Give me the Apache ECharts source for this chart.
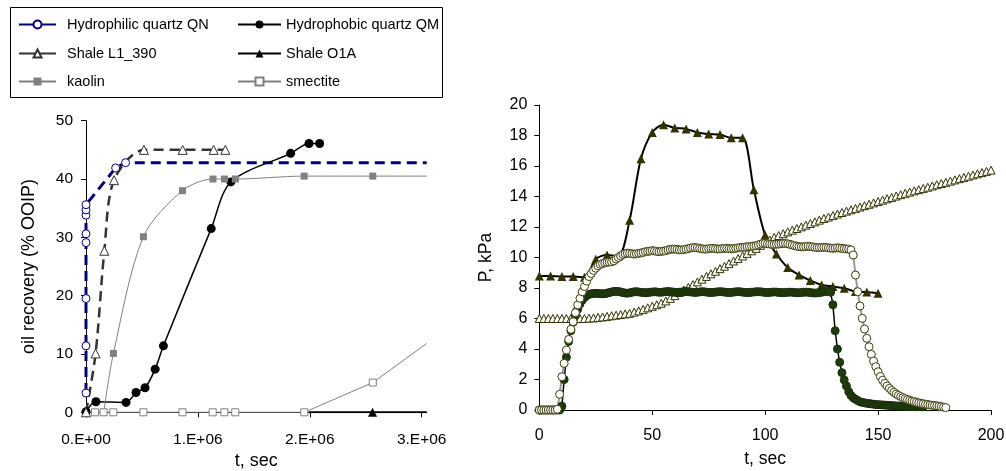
<!DOCTYPE html>
<html><head><meta charset="utf-8">
<script src="https://cdn.jsdelivr.net/npm/echarts@6/dist/echarts.min.js"></script>
<style>html,body{margin:0;padding:0;background:#fff}#c{width:1006px;height:471px}</style>
</head><body><div id="c"></div>
<script>
// ---------------- LEFT CHART DATA (t in sec, recovery % OOIP) ----------------
const qnT  = [0, 0, 0, 0, 0, 0, 0, 0, 0.265e6, 0.354e6, 3.045e6];
const qnY  = [3.3, 11.4, 19.5, 29.1, 30.6, 33.8, 34.7, 35.6, 41.9, 42.8, 42.8];
const qmT  = [0, 0.089e6, 0.358e6, 0.447e6, 0.528e6, 0.618e6, 0.692e6, 1.119e6, 1.295e6, 1.829e6, 1.993e6, 2.088e6];
const qmY  = [0.1, 1.8, 1.7, 3.4, 4.2, 7.4, 11.4, 31.5, 39.5, 44.4, 46.1, 46.1];
const l1T  = [0, 0.086e6, 0.164e6, 0.25e6, 0.518e6, 0.864e6, 1.141e6, 1.245e6];
const l1Y  = [0, 10.1, 27.7, 39.8, 45.0, 45.0, 45.0, 45.0];
const o1aT = [1.99e6, 2.561e6, 3.045e6];
const o1aY = [0, 0, 0];
const kaoT = [0.158e6, 0.245e6, 0.513e6, 0.862e6, 1.135e6, 1.238e6, 1.335e6, 1.95e6, 2.563e6, 3.045e6];
const kaoY = [0, 10.1, 30.1, 38.0, 40.0, 40.0, 40.0, 40.5, 40.5, 40.5];
const smeT = [0.08e6, 0.157e6, 0.244e6, 0.513e6, 0.862e6, 1.132e6, 1.237e6, 1.334e6, 1.951e6, 2.563e6, 3.045e6];
const smeY = [0, 0, 0, 0, 0, 0, 0, 0, 0, 5.1, 11.8];
const leftXTicks  = [0, 1e6, 2e6, 3e6];
const leftXLabels = ['0.E+00', '1.E+06', '2.E+06', '3.E+06'];
const seriesNames = ['Hydrophilic quartz QN', 'Hydrophobic quartz QM', 'Shale L1_390', 'Shale O1A', 'kaolin', 'smectite'];

// ---------------- RIGHT CHART DATA (t in sec, P in kPa) ----------------
const triFilledT = [0,5,10,15,20,25,30,35,40,45,50,55,60,65,70,75,80,85,90,95,100,105,110,115,120,125,130,135,140,145,150];
const triFilledP = [8.79,8.79,8.75,8.75,8.7,9.88,10.16,10.1,12.45,16.47,18.2,18.7,18.5,18.43,18.2,18.1,18.06,17.85,17.85,14.45,11.47,10.23,9.34,8.86,8.49,8.2,8.1,7.99,7.77,7.73,7.66];

const triOpenT0 = 0, triOpenStep = 2;   // sample every 2 s from t = 0
const triOpenP = [
  6.0,6.0,6.0,6.0,6.0,6.0,6.0,6.0,6.0,6.0,6.0,
  6.02,6.04,6.07,6.1,6.14,6.18,6.22,6.26,6.3,6.34,
  6.42,6.5,6.6,6.7,6.8,6.9,7.0,7.15,7.32,7.5,
  7.7,7.87,8.04,8.22,8.4,8.58,8.76,8.93,9.1,9.27,
  9.43,9.6,9.77,9.93,10.1,10.27,10.44,10.6,10.8,10.98,
  11.15,11.32,11.44,11.56,11.68,11.79,11.9,12.01,12.12,12.23,
  12.34,12.45,12.56,12.65,12.75,12.85,12.95,13.04,13.13,13.22,
  13.31,13.4,13.49,13.58,13.67,13.76,13.85,13.94,14.03,14.12,
  14.21,14.29,14.37,14.45,14.53,14.61,14.69,14.77,14.85,14.93,
  15.01,15.09,15.17,15.25,15.33,15.41,15.49,15.57,15.65,15.73
];
const triOpenTailT = 202, triOpenTailP = 15.9;

const circFilledT0 = 0, circFilledStep = 1;
const circFilledP = [
  0,0,0,0,0,0,0,0,0,0,
  0.25,2.0,3.46,4.5,5.2,5.75,6.2,6.6,6.95,7.2,7.38,7.5,7.58,
  7.62,7.64,7.65,7.64,7.63,7.62,7.63,
  7.66,7.7,7.74,7.77,7.78,7.77,7.74,7.7,7.67,7.66,
  7.68,7.72,7.75,7.76,7.74,7.72,7.7,7.69,7.7,7.72,
  7.74,7.75,7.74,7.72,7.72,7.74,7.76,7.77,7.76,7.74,
  7.72,7.71,7.72,7.74,7.76,7.77,7.76,7.74,7.72,7.71,
  7.72,7.74,7.76,7.75,7.73,7.71,7.7,7.71,7.73,7.75,
  7.76,7.75,7.73,7.71,7.7,7.71,7.73,7.75,7.76,7.75,
  7.73,7.71,7.7,7.7,7.72,7.74,7.75,7.76,7.75,7.73,
  7.71,7.7,7.71,7.73,7.74,7.73,7.71,7.7,7.69,7.7,
  7.72,7.73,7.72,7.7,7.69,7.69,7.7,7.72,7.73,7.72,
  7.7,7.68,7.67,7.68,7.7,7.72,7.75,7.78,7.8,7.72,
  6.9,5.2,4.0,3.13,2.45,1.97,1.57,1.2,0.95,0.8,0.7,
  0.62,0.54,0.5,0.47,0.44,0.42,0.4,0.38,0.36,0.35,
  0.34,0.33,0.32,0.31,0.3,0.29,0.28,0.27,0.26,0.26,
  0.25,0.25,0.24,0.24,0.23,0.23,0.22,0.22,0.21,0.21
];

const circOpenT0 = 0, circOpenStep = 1;
const circOpenP = [
  0,0,0,0,0,0,0,0,0.05,
  1.03,2.18,3.06,3.93,4.63,5.29,5.79,6.38,6.89,7.32,7.75,8.1,8.45,8.75,
  8.95,9.15,9.3,9.45,9.55,9.6,9.65,9.68,9.7,9.72,9.78,9.9,10.0,10.1,10.2,10.25,10.28,
  10.27,10.25,10.22,10.24,10.27,10.3,10.33,10.38,10.4,10.42,
  10.45,10.43,10.4,10.38,10.4,10.42,10.45,10.5,10.53,10.55,
  10.55,10.53,10.5,10.5,10.52,10.55,10.58,10.62,10.65,10.65,
  10.63,10.6,10.57,10.55,10.55,10.58,10.6,10.6,10.58,10.56,
  10.56,10.58,10.6,10.6,10.58,10.57,10.58,10.6,10.63,10.66,
  10.66,10.68,10.7,10.72,10.73,10.75,10.78,10.82,10.88,10.92,
  10.93,10.9,10.88,10.86,10.86,10.87,10.88,10.9,10.92,10.92,
  10.9,10.86,10.82,10.78,10.74,10.71,10.7,10.7,10.72,10.74,
  10.72,10.7,10.67,10.65,10.65,10.66,10.67,10.66,10.64,10.62,
  10.6,10.62,10.64,10.62,10.6,10.58,10.56,10.55,10.5,
  10.16,8.85,7.76,6.82,6.01,5.31,4.7,4.15,3.65,3.21,2.84,
  2.51,2.2,1.95,1.75,1.57,1.42,1.28,1.16,1.05,0.96,
  0.88,0.81,0.75,0.69,0.64,0.59,0.55,0.51,0.47,0.44,
  0.41,0.38,0.36,0.33,0.31,0.29,0.27,0.25,0.22,0.19,0.16
];

// ---------------- BUILD ----------------
const LEFT_X_MAX = 3.045e6;
const FONT = '"Liberation Sans", Arial, sans-serif';
function pairs(ts, ys) { return ts.map((t, i) => [t, ys[i]]); }
function stepPairs(t0, step, ys) { return ys.map((y, i) => [t0 + i * step, y]); }
function edgeless(arr, hideFirst) {
  return arr.map((p, i) => (p[0] >= LEFT_X_MAX || (hideFirst && i === 0)) ? { value: p, symbol: 'none' } : p);
}

const leftSeries = [
  { name: seriesNames[0], data: edgeless(pairs(qnT, qnY)), symbol: 'circle', symbolSize: 8,
    itemStyle: { color: '#fff', borderColor: '#000080', borderWidth: 1 },
    lineStyle: { color: '#000080', width: 3, type: [10, 6] } },
  { name: seriesNames[1], data: pairs(qmT, qmY), symbol: 'circle', symbolSize: 9, smooth: 0.3,
    itemStyle: { color: '#000', borderColor: '#000', borderWidth: 0 },
    lineStyle: { color: '#000', width: 1.5 } },
  { name: seriesNames[2], data: pairs(l1T, l1Y), symbol: 'triangle', symbolSize: 9, smooth: 0.3,
    itemStyle: { color: '#fff', borderColor: '#333', borderWidth: 1 },
    lineStyle: { color: '#333', width: 2.5, type: [10, 6] } },
  { name: seriesNames[3], data: edgeless(pairs(o1aT, o1aY), true), symbol: 'triangle', symbolSize: 9,
    itemStyle: { color: '#000', borderWidth: 0 },
    lineStyle: { color: '#000', width: 2 } },
  { name: seriesNames[4], data: edgeless(pairs(kaoT, kaoY)), symbol: 'rect', symbolSize: 7, smooth: 0.3,
    itemStyle: { color: '#808080', borderWidth: 0 },
    lineStyle: { color: '#808080', width: 1 } },
  { name: seriesNames[5], data: edgeless(pairs(smeT, smeY)), symbol: 'rect', symbolSize: 7,
    itemStyle: { color: '#fff', borderColor: '#808080', borderWidth: 1 },
    lineStyle: { color: '#808080', width: 1 } }
].map(s => Object.assign({ type: 'line', xAxisIndex: 0, yAxisIndex: 0, showAllSymbol: true, clip: true, emphasis: { disabled: true } }, s));

const triOpenData = stepPairs(triOpenT0, triOpenStep, triOpenP);
triOpenData.push({ value: [triOpenTailT, triOpenTailP], symbol: 'none' });

const rightSeries = [
  { data: pairs(triFilledT, triFilledP), symbol: 'triangle', symbolSize: 9, smooth: 0.3,
    itemStyle: { color: '#333300', borderWidth: 0 }, lineStyle: { color: '#000', width: 2 } },
  { data: triOpenData, symbol: 'triangle', symbolSize: 8, clip: false,
    itemStyle: { color: '#fff', borderColor: '#333300', borderWidth: 1 }, lineStyle: { color: '#a6a6a6', width: 2 } },
  { data: stepPairs(circFilledT0, circFilledStep, circFilledP), symbol: 'circle', symbolSize: 8,
    itemStyle: { color: '#1f3b0c', borderColor: '#1a300a', borderWidth: 1 }, lineStyle: { color: '#000', width: 1.5 } },
  { data: stepPairs(circOpenT0, circOpenStep, circOpenP), symbol: 'circle', symbolSize: 8,
    itemStyle: { color: '#fff', borderColor: '#3d3d0a', borderWidth: 1 }, lineStyle: { color: '#999', width: 2 } }
].map(s => Object.assign({ type: 'line', xAxisIndex: 1, yAxisIndex: 1, showAllSymbol: true, emphasis: { disabled: true } }, s));

const axisCommon = {
  axisLine: { show: true, onZero: false, lineStyle: { color: '#000', width: 1 } },
  axisTick: { show: true, inside: false, length: 5, lineStyle: { color: '#000', width: 1 } },
  splitLine: { show: false },
  nameLocation: 'middle'
};

const legendPos = [
  { name: seriesNames[0], left: 18, top: 16.5, w: 37, pad: 6 },
  { name: seriesNames[1], left: 237, top: 16.5, w: 43, pad: 0 },
  { name: seriesNames[2], left: 18, top: 45.5, w: 37, pad: 6 },
  { name: seriesNames[3], left: 237, top: 45.5, w: 43, pad: 0 },
  { name: seriesNames[4], left: 18, top: 73.5, w: 37, pad: 6 },
  { name: seriesNames[5], left: 237, top: 73.5, w: 43, pad: 0 }
];

const option = {
  animation: false,
  backgroundColor: '#fff',
  textStyle: { fontFamily: FONT },
  legend: legendPos.map(l => ({
    data: [l.name], left: l.left, top: l.top, orient: 'horizontal', padding: 0,
    itemWidth: l.w, itemHeight: 10, selectedMode: false,
    lineStyle: { type: 'solid' },
    textStyle: { fontSize: 14.5, color: '#000', fontFamily: FONT, lineHeight: 16, padding: [0, 0, 0, l.pad] }
  })),
  graphic: [{ type: 'rect', shape: { x: 10.5, y: 7.5, width: 432, height: 90 },
              style: { fill: 'none', stroke: '#000', lineWidth: 1 }, z: 0 }],
  grid: [
    { left: 86, top: 120.7, width: 340.7, height: 291.6, containLabel: false, outerBoundsMode: 'none' },
    { left: 539.3, top: 105, width: 451.7, height: 305, containLabel: false, outerBoundsMode: 'none' }
  ],
  xAxis: [
    Object.assign({}, axisCommon, {
      type: 'value', gridIndex: 0, min: 0, max: LEFT_X_MAX,
      name: 't, sec', nameGap: 39, nameTextStyle: { fontSize: 18, color: '#000', fontFamily: FONT },
      axisTick: Object.assign({}, axisCommon.axisTick, { customValues: leftXTicks }),
      axisLabel: { customValues: leftXTicks, fontSize: 15.5, color: '#000', margin: 19, fontFamily: FONT,
        formatter: v => leftXLabels[leftXTicks.indexOf(v)] || '' }
    }),
    Object.assign({}, axisCommon, {
      type: 'value', gridIndex: 1, min: 0, max: 200, interval: 50,
      name: 't, sec', nameGap: 40, nameTextStyle: { fontSize: 17.5, color: '#000', fontFamily: FONT },
      axisLabel: { fontSize: 16, color: '#000', margin: 18, fontFamily: FONT }
    })
  ],
  yAxis: [
    Object.assign({}, axisCommon, {
      type: 'value', gridIndex: 0, min: 0, max: 50, interval: 10,
      name: 'oil recovery (% OOIP)', nameGap: 48, nameTextStyle: { fontSize: 18, color: '#000', fontFamily: FONT },
      axisLabel: { fontSize: 15.5, color: '#000', margin: 13, fontFamily: FONT }
    }),
    Object.assign({}, axisCommon, {
      type: 'value', gridIndex: 1, min: 0, max: 20, interval: 2,
      name: 'P, kPa', nameGap: 44, nameTextStyle: { fontSize: 17.5, color: '#000', fontFamily: FONT },
      axisLabel: { fontSize: 16, color: '#000', margin: 12, fontFamily: FONT }
    })
  ],
  series: leftSeries.concat(rightSeries)
};

const chart = echarts.init(document.getElementById('c'), null, { renderer: 'canvas' });
chart.setOption(option);
</script></body></html>
